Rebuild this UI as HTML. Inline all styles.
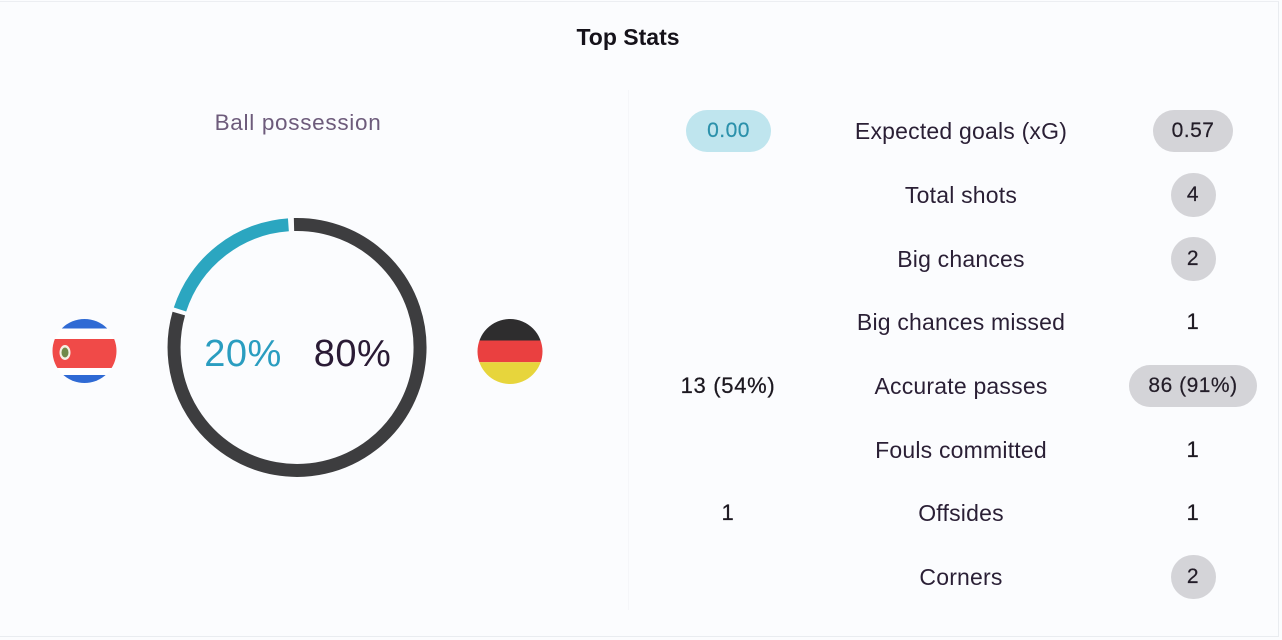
<!DOCTYPE html>
<html>
<head>
<meta charset="utf-8">
<style>
  html,body{margin:0;padding:0;}
  body{width:1282px;height:640px;background:#fbfcfe;position:relative;overflow:hidden;font-family:"Liberation Sans",sans-serif;}
  .frame{position:absolute;left:0;top:1px;width:1278px;height:634px;border-top:1px solid #eceef2;border-right:1px solid #e9ecf0;border-bottom:1px solid #e9ecf0;}
  .div{position:absolute;left:628px;top:90px;width:1px;height:520px;background:#f5f6f9;}
  .t{position:absolute;text-align:center;white-space:nowrap;}
  .title{left:528px;width:200px;top:22px;height:30px;line-height:30px;font-size:23px;font-weight:bold;color:#15121a;}
  .bp{left:178px;width:240px;top:108px;height:30px;line-height:30px;font-size:22.5px;letter-spacing:0.7px;color:#6d5b7b;}
  .pct{top:330px;height:48px;line-height:48px;font-size:38px;width:120px;letter-spacing:0.5px;}
  .lab{left:801px;width:320px;height:32px;line-height:32px;font-size:23px;letter-spacing:0.2px;color:#2a1f35;}
  .val{height:32px;line-height:32px;font-size:22px;letter-spacing:0.7px;color:#1c1820;-webkit-text-stroke:0.25px #1c1820;}
  .pill{position:absolute;background:#d4d4d8;border-radius:22px;text-align:center;font-size:21px;letter-spacing:0.5px;color:#231d28;-webkit-text-stroke:0.2px #231d28;}
</style>
</head>
<body>
<div class="frame"></div>
<div class="div"></div>

<div class="t title">Top Stats</div>
<div class="t bp">Ball possession</div>

<svg style="position:absolute;left:0;top:0" width="640" height="640" viewBox="0 0 640 640">
  <defs>
    <clipPath id="cr"><circle cx="84.5" cy="351" r="32"/></clipPath>
    <clipPath id="de"><circle cx="510" cy="351.5" r="32.5"/></clipPath>
  </defs>
  <path d="M 294.0 224.5 A 123 123 0 1 1 178.8 313.6" fill="none" stroke="#3d3d3f" stroke-width="13"/>
  <path d="M 180.0 309.5 A 123 123 0 0 1 288.4 224.8" fill="none" stroke="#2ba6c0" stroke-width="13"/>
  <g clip-path="url(#cr)">
    <rect x="50" y="317" width="70" height="70" fill="#ffffff"/>
    <rect x="50" y="317" width="70" height="11.5" fill="#2f6ad4"/>
    <rect x="50" y="339" width="70" height="29" fill="#f04a48"/>
    <rect x="50" y="375" width="70" height="10" fill="#2f6ad4"/>
  </g>
  <ellipse cx="65" cy="352.5" rx="5.5" ry="7.5" fill="#f4f0e4"/>
  <ellipse cx="65" cy="352.5" rx="3.5" ry="5" fill="#6f8a4a"/>
  <g clip-path="url(#de)">
    <rect x="475" y="317" width="70" height="23.5" fill="#2e2d2e"/>
    <rect x="475" y="340.5" width="70" height="21.7" fill="#ea4040"/>
    <rect x="475" y="362.2" width="70" height="25" fill="#e7d53c"/>
  </g>
</svg>

<div class="t pct" style="left:183px;color:#2a9dc0;">20%</div>
<div class="t pct" style="left:292.5px;color:#2a1b35;">80%</div>

<div class="t lab" style="top:114.5px;">Expected goals (xG)</div>
<div class="t lab" style="top:178.5px;">Total shots</div>
<div class="t lab" style="top:242.5px;">Big chances</div>
<div class="t lab" style="top:306px;">Big chances missed</div>
<div class="t lab" style="top:370px;">Accurate passes</div>
<div class="t lab" style="top:433.5px;">Fouls committed</div>
<div class="t lab" style="top:497px;">Offsides</div>
<div class="t lab" style="top:560.5px;">Corners</div>

<div class="pill" style="left:686px;top:109.5px;width:85px;height:42px;line-height:42px;background:#bfe5ee;color:#2b91ab;-webkit-text-stroke:0.2px #2b91ab;">0.00</div>
<div class="t val" style="left:668px;width:120px;top:370px;">13 (54%)</div>
<div class="t val" style="left:668px;width:120px;top:497px;">1</div>

<div class="pill" style="left:1153px;top:109.5px;width:80px;height:42px;line-height:42px;">0.57</div>
<div class="pill" style="left:1170.5px;top:172.5px;width:45px;height:44px;line-height:44px;">4</div>
<div class="pill" style="left:1170.5px;top:236.5px;width:45px;height:44px;line-height:44px;">2</div>
<div class="t val" style="left:1133px;width:120px;top:306px;">1</div>
<div class="pill" style="left:1129px;top:365px;width:128px;height:42px;line-height:42px;">86 (91%)</div>
<div class="t val" style="left:1133px;width:120px;top:433.5px;">1</div>
<div class="t val" style="left:1133px;width:120px;top:497px;">1</div>
<div class="pill" style="left:1170.5px;top:554.5px;width:45px;height:44px;line-height:44px;">2</div>

</body>
</html>
